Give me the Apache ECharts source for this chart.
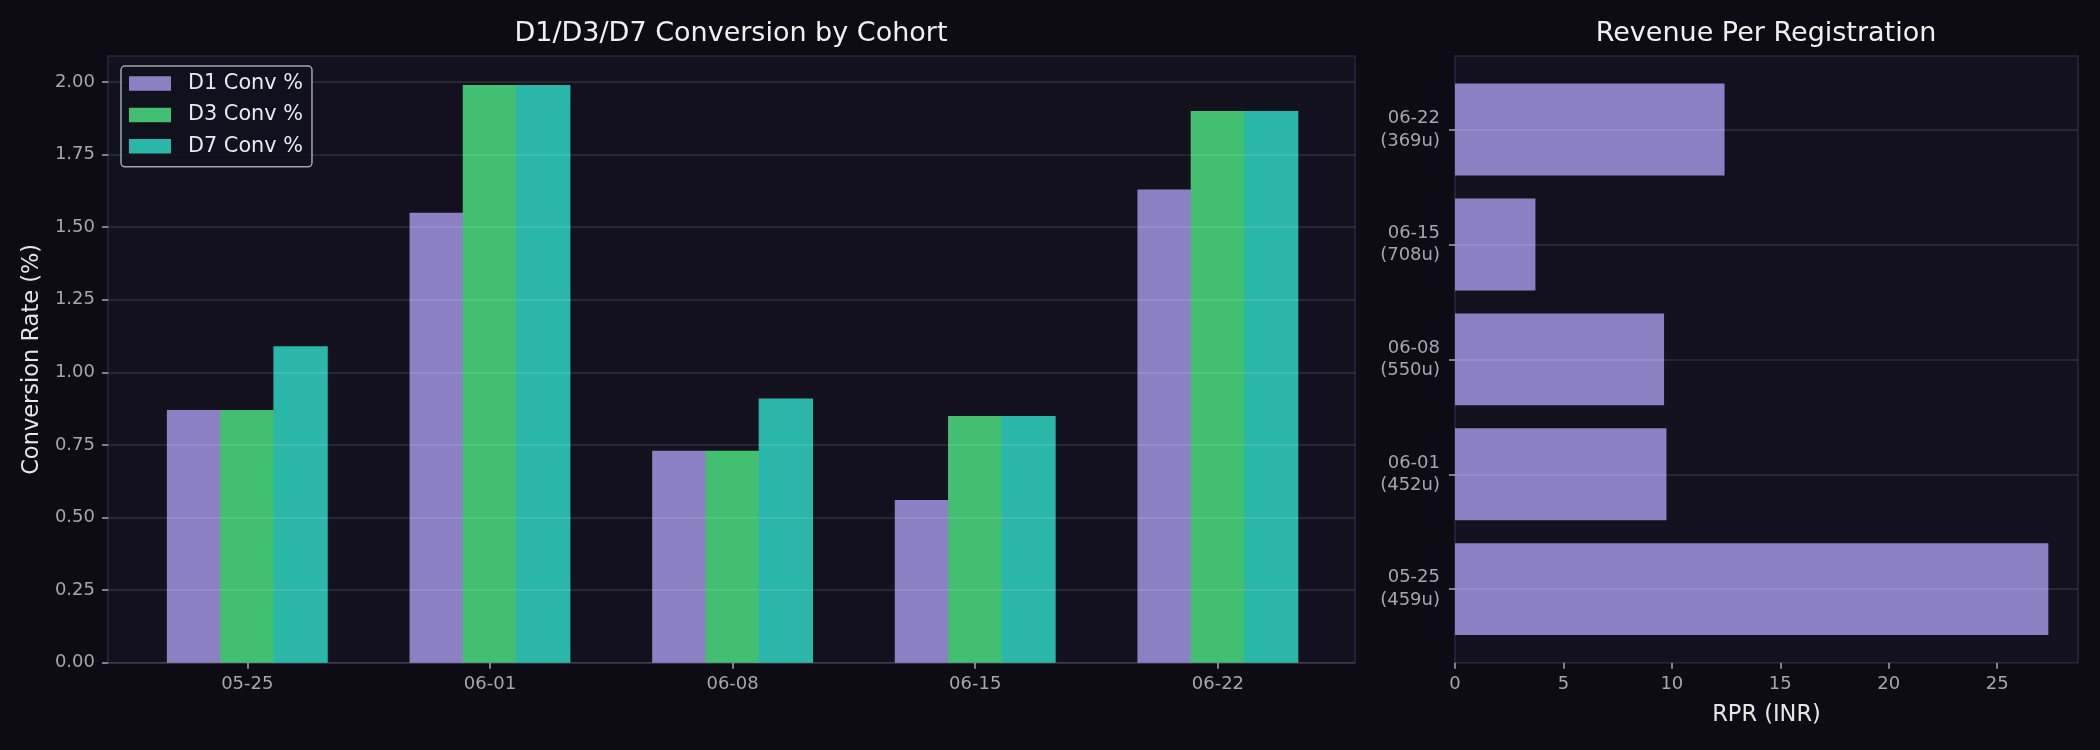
<!DOCTYPE html>
<html>
<head>
<meta charset="utf-8">
<script src="https://cdn.jsdelivr.net/npm/echarts@6/dist/echarts.min.js"></script>
<style>
  html, body { margin: 0; background: #0d0b14; }
  #chart { width: 2100px; height: 750px; }
</style>
</head>
<body>
<div id="chart"></div>
<script>
// cohort data
const cohorts = ['05-25', '06-01', '06-08', '06-15', '06-22'];
const users = [459, 452, 550, 708, 369];
const d1Conv = [0.87, 1.55, 0.73, 0.56, 1.63];
const d3Conv = [0.87, 1.99, 0.73, 0.85, 1.90];
const d7Conv = [1.09, 1.99, 0.91, 0.85, 1.90];
const rpr = [27.36, 9.75, 9.64, 3.71, 12.43];
const convTicks = [0, 0.25, 0.5, 0.75, 1, 1.25, 1.5, 1.75, 2];
const rprTicks = [0, 5, 10, 15, 20, 25];

const FONT = 'DejaVu Sans';
const TICK_COLOR = '#a6a6ae';
const GRID_LINE = 'rgba(255,255,255,0.13)';
const SPINE = '#2a2838';

const convMax = Math.max(...d1Conv, ...d3Conv, ...d7Conv) * 1.05;
const rprMax = Math.max(...rpr) * 1.05;

const chart = echarts.init(document.getElementById('chart'), null, {renderer: 'canvas'});

const tickLabel = {color: TICK_COLOR, fontFamily: FONT, fontSize: 18};
const tickStyle = {show: true, length: 6, lineStyle: {color: TICK_COLOR, width: 1.5}};

// bars touch in the reference; a tiny overlap hides canvas seams
const BAR_W = '22.4%';
const BAR_GAP = '-2%';

chart.setOption({
  backgroundColor: '#0d0b14',
  animation: false,
  textStyle: {fontFamily: FONT},
  title: [
    {text: 'D1/D3/D7 Conversion by Cohort', left: 731, top: 20, textAlign: 'center', padding: 0,
      textStyle: {color: '#f0f0f0', fontSize: 27, fontWeight: 'normal', fontFamily: FONT}},
    {text: 'Revenue Per Registration', left: 1766, top: 20, textAlign: 'center', padding: 0,
      textStyle: {color: '#f0f0f0', fontSize: 27, fontWeight: 'normal', fontFamily: FONT}}
  ],
  legend: {
    data: ['D1 Conv %', 'D3 Conv %', 'D7 Conv %'],
    orient: 'vertical',
    left: 121, top: 66,
    icon: 'rect',
    itemWidth: 42, itemHeight: 14.5, itemGap: 10.4,
    padding: [7, 9, 10, 8],
    backgroundColor: 'rgba(18,17,29,0.85)',
    borderColor: 'rgba(200,200,210,0.8)', borderWidth: 1.5, borderRadius: 4,
    textStyle: {color: '#e8e8ee', fontSize: 20.8, lineHeight: 21, fontFamily: FONT, padding: [0, 0, 0, 12]}
  },
  grid: [
    // left frame
    {left: 108, top: 56, width: 1247, height: 606.7, show: true,
      backgroundColor: '#12111d', borderColor: SPINE, borderWidth: 1.5},
    // left bars
    {left: 126, top: 56, width: 1213.2, height: 606.7},
    // right frame
    {left: 1455, top: 56, width: 623, height: 606.7, show: true,
      backgroundColor: '#12111d', borderColor: SPINE, borderWidth: 1.5},
    // right bars
    {left: 1455, top: 72.1, width: 623, height: 574.5}
  ],
  xAxis: [
    {gridIndex: 0, type: 'value', min: 0, max: 1, show: false},
    {gridIndex: 1, type: 'category', data: cohorts,
      axisLine: {show: false},
      axisTick: Object.assign({alignWithLabel: true}, tickStyle),
      axisLabel: Object.assign({margin: 13}, tickLabel)},
    {gridIndex: 2, type: 'value', min: 0, max: rprMax, interval: 5,
      axisLine: {show: false},
      axisTick: Object.assign({customValues: rprTicks}, tickStyle),
      axisLabel: Object.assign({margin: 13, customValues: rprTicks}, tickLabel),
      splitLine: {show: false},
      name: 'RPR (INR)', nameLocation: 'middle', nameGap: 41,
      nameTextStyle: {color: '#e6e6e6', fontSize: 22.5, fontFamily: FONT}},
    {gridIndex: 3, type: 'value', min: 0, max: rprMax, show: false}
  ],
  yAxis: [
    {gridIndex: 0, type: 'value', min: 0, max: convMax, interval: 0.25, z: 3,
      axisLine: {show: false},
      axisTick: Object.assign({customValues: convTicks}, tickStyle),
      axisLabel: Object.assign({margin: 13, customValues: convTicks,
        formatter: v => v.toFixed(2)}, tickLabel),
      splitLine: {show: true, lineStyle: {color: GRID_LINE, width: 1.5}},
      name: 'Conversion Rate (%)', nameLocation: 'middle', nameGap: 63,
      nameTextStyle: {color: '#e6e6e6', fontSize: 22.5, fontFamily: FONT}},
    {gridIndex: 1, type: 'value', min: 0, max: convMax, show: false},
    {gridIndex: 2, type: 'value', min: 0, max: 1, show: false},
    {gridIndex: 3, type: 'category', data: cohorts, z: 3,
      axisLine: {show: false},
      axisTick: Object.assign({alignWithLabel: true}, tickStyle),
      axisLabel: Object.assign({margin: 15, align: 'right', lineHeight: 22.7,
        formatter: (v, i) => v + '\n(' + users[i] + 'u)'}, tickLabel),
      splitLine: {show: true, alignWithLabel: true, lineStyle: {color: GRID_LINE, width: 1.5}}}
  ],
  series: [
    {name: 'D1 Conv %', type: 'bar', xAxisIndex: 1, yAxisIndex: 1, data: d1Conv,
      barWidth: BAR_W, barGap: BAR_GAP, itemStyle: {color: '#8b80c4'}},
    {name: 'D3 Conv %', type: 'bar', xAxisIndex: 1, yAxisIndex: 1, data: d3Conv,
      barWidth: BAR_W, barGap: BAR_GAP, itemStyle: {color: '#43bf71'}},
    {name: 'D7 Conv %', type: 'bar', xAxisIndex: 1, yAxisIndex: 1, data: d7Conv,
      barWidth: BAR_W, barGap: BAR_GAP, itemStyle: {color: '#2ab7a9'}},
    {name: 'RPR', type: 'bar', xAxisIndex: 3, yAxisIndex: 3, data: rpr,
      barWidth: '80%', itemStyle: {color: '#8b80c4'}}
  ]
});
</script>
</body>
</html>
